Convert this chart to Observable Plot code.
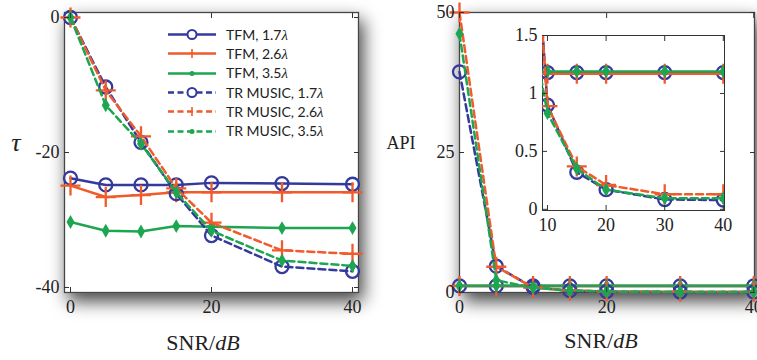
<!DOCTYPE html>
<html><head><meta charset="utf-8">
<script src="https://cdn.jsdelivr.net/npm/d3@7"></script>
<script src="https://cdn.jsdelivr.net/npm/@observablehq/plot@0.6"></script>
<style>
body{margin:0;background:#fff;}
#wrap{position:relative;width:757px;height:360px;overflow:hidden;font-family:"Liberation Serif",serif;background:#fff;}
.lbl{position:absolute;transform:translate(-50%,-50%);white-space:nowrap;line-height:1;color:#222;}
#legend{position:absolute;left:168px;top:25px;font-family:Lato,sans-serif;font-size:14px;color:#222;}
#legend .row{height:19.3px;display:flex;align-items:center;}
#legend svg{display:block;margin-right:10px;}
</style></head><body><div id="wrap"></div>
<script>
// ---------- data ----------
const snr = [0, 5, 10, 15, 20, 30, 40];
const seriesNames = ["TFM, 1.7", "TFM, 2.6", "TFM, 3.5", "TR MUSIC, 1.7", "TR MUSIC, 2.6", "TR MUSIC, 3.5"];
// left panel: tau
const tauTFM17 = [-23.8, -24.8, -24.8, -24.8, -24.5, -24.6, -24.7];
const tauTFM26 = [-24.9, -26.6, -26.3, -25.9, -25.9, -25.9, -25.9];
const tauTFM35 = [-30.3, -31.6, -31.7, -30.9, -31.0, -31.2, -31.2];
const tauTR17 = [0, -10.3, -18.5, -26.1, -32.3, -36.9, -37.6];
const tauTR26 = [0, -10.8, -17.6, -25.3, -30.4, -34.5, -35.0];
const tauTR35 = [0, -13.0, -18.7, -25.9, -31.6, -36.0, -36.8];
// right panel: API
const apiTFM17 = [1.18, 1.18, 1.18, 1.18, 1.18, 1.18, 1.18];
const apiTFM26 = [1.17, 1.17, 1.17, 1.17, 1.17, 1.17, 1.17];
const apiTFM35 = [1.19, 1.19, 1.19, 1.19, 1.19, 1.19, 1.19];
const apiTR17 = [39.4, 4.7, 0.90, 0.32, 0.17, 0.085, 0.08];
const apiTR26 = [50, 4.6, 0.89, 0.37, 0.21, 0.13, 0.13];
const apiTR35 = [46.2, 2.2, 0.83, 0.35, 0.17, 0.095, 0.095];
// tick labels
const leftXTicks = [0, 20, 40];
const leftYTicks = [0, -20, -40];
const rightXTicks = [0, 20, 40];
const rightYTicks = [0, 25, 50];
const insetXTicks = [10, 20, 30, 40];
const insetYTicks = [0, 0.5, 1, 1.5];

// ---------- styles ----------
const colors = ["#343a9c", "#f15a2b", "#1ca650", "#343a9c", "#f15a2b", "#1ca650"];
const symbols = ["circle", "plus", "diamond", "circle", "plus", "diamond"];
const dashed = [false, false, false, true, true, true];

function toRows(values) { return snr.map((x, i) => ({x, y: values[i]})); }
const tauSeries = [tauTFM17, tauTFM26, tauTFM35, tauTR17, tauTR26, tauTR35].map(toRows);
const apiSeries = [apiTFM17, apiTFM26, apiTFM35, apiTR17, apiTR26, apiTR35].map(toRows);

function seriesMarks(series, clip) {
  const marks = [];
  series.forEach((rows, k) => {
    marks.push(Plot.line(rows, {x: "x", y: "y", stroke: colors[k], strokeWidth: 2.5,
      strokeDasharray: dashed[k] ? "7,4" : null, clip}));
    const s = symbols[k];
    const dotOpts = {x: "x", y: "y", symbol: s, clip};
    if (s === "circle") Object.assign(dotOpts, {r: 6.5, stroke: colors[k], strokeWidth: 2.3, fill: "none"});
    else if (s === "plus") Object.assign(dotOpts, {r: 6.5, stroke: colors[k], strokeWidth: 2.3, fill: "none"});
    else Object.assign(dotOpts, {r: 4.2, fill: colors[k], stroke: "none"});
    marks.push(Plot.dot(rows, dotOpts));
  });
  return marks;
}
const fmt = d => String(d);
function axes(xt, yt, fs) {
  return [
    Plot.axisX(xt, {anchor: "bottom", tickSize: -5, tickPadding: 13, tickFormat: fmt, label: null, fontSize: fs, stroke: "#333"}),
    Plot.axisX(xt, {anchor: "top", tickSize: -5, tickFormat: () => "", label: null, stroke: "#333"}),
    Plot.axisY(yt, {anchor: "left", tickSize: -5, tickPadding: 10, tickFormat: fmt, label: null, fontSize: fs, stroke: "#333"}),
    Plot.axisY(yt, {anchor: "right", tickSize: -5, tickFormat: () => "", label: null, stroke: "#333"})
  ];
}
const baseStyle = {fontFamily: "Liberation Serif, serif", fontSize: "18px", background: "transparent", overflow: "visible", color: "#222"};

function addShadow(svg, id) {
  const defs = d3.select(svg).insert("defs", ":first-child");
  const f = defs.append("filter").attr("id", id).attr("x", "-30%").attr("y", "-30%").attr("width", "160%").attr("height", "170%");
  f.append("feDropShadow").attr("dx", 4).attr("dy", 8).attr("stdDeviation", 9)
    .attr("flood-color", "#000").attr("flood-opacity", 0.75);
  d3.select(svg).select("[aria-label=frame]").attr("filter", `url(#${id})`);
}

const wrap = document.getElementById("wrap");

// ---------- left panel ----------
const left = Plot.plot({
  width: 380, height: 360,
  marginLeft: 64, marginRight: 22, marginTop: 12, marginBottom: 68,
  x: {domain: [-0.85, 40.85]},
  y: {domain: [-40.74, 0.74]},
  style: baseStyle,
  marks: [
    Plot.frame({fill: "white", stroke: "#444", strokeWidth: 1.3}),
    ...seriesMarks(tauSeries, false),
    ...axes(leftXTicks, leftYTicks, 18)
  ]
});
addShadow(left, "shL");
left.style.position = "absolute"; left.style.left = "0px"; left.style.top = "0px";
wrap.appendChild(left);

// ---------- right panel ----------
const right = Plot.plot({
  width: 377, height: 360,
  marginLeft: 79, marginRight: 3, marginTop: 12, marginBottom: 68,
  x: {domain: [0, 40.1]},
  y: {domain: [0, 50]},
  style: baseStyle,
  marks: [
    Plot.frame({fill: "white", stroke: "#444", strokeWidth: 1.3}),
    ...seriesMarks(apiSeries, false),
    ...axes(rightXTicks, rightYTicks, 18)
  ]
});
addShadow(right, "shR");
right.style.position = "absolute"; right.style.left = "380px"; right.style.top = "0px";
wrap.appendChild(right);

// ---------- inset ----------
const inset = Plot.plot({
  width: 240, height: 215,
  marginLeft: 42, marginRight: 16, marginTop: 10, marginBottom: 30,
  x: {domain: [9.15, 40.2]},
  y: {domain: [-0.01, 1.5]},
  style: baseStyle,
  marks: [
    Plot.frame({fill: "white", stroke: "#333", strokeWidth: 1}),
    ...seriesMarks(apiSeries, true),
    ...axes(insetXTicks, insetYTicks, 18)
  ]
});
inset.style.position = "absolute"; inset.style.left = "500px"; inset.style.top = "25px";
wrap.appendChild(inset);

// ---------- legend ----------
const legend = d3.select(wrap).append("div").attr("id", "legend");
seriesNames.forEach((name, k) => {
  const row = legend.append("div").attr("class", "row");
  const s = row.append("svg").attr("width", 48).attr("height", 19);
  s.append("line").attr("x1", 0).attr("x2", 48).attr("y1", 9.5).attr("y2", 9.5)
    .attr("stroke", colors[k]).attr("stroke-width", 2.3).attr("stroke-dasharray", dashed[k] ? "6,3.5" : null);
  const g = s.append("g").attr("transform", "translate(24,9.5)");
  if (symbols[k] === "circle") g.append("circle").attr("r", 4.5).attr("fill", "white").attr("stroke", colors[k]).attr("stroke-width", 2);
  else if (symbols[k] === "plus") g.append("path").attr("d", "M0,-4.5V4.5").attr("stroke", colors[k]).attr("stroke-width", 1.6);
  else g.append("circle").attr("r", 2.5).attr("fill", colors[k]);
  const t = row.append("span");
  t.append("span").text(name);
  t.append("span").style("font-family", "Liberation Serif, serif").style("font-style", "italic").style("font-size", "15px").text("λ");
});

// ---------- axis titles ----------
function label(html, x, y, size) {
  const d = document.createElement("div");
  d.className = "lbl";
  d.style.left = x + "px"; d.style.top = y + "px"; d.style.fontSize = size + "px";
  d.innerHTML = html;
  wrap.appendChild(d);
}
label("<i>τ</i>", 16, 143, 26);
label("API", 401, 143, 18);
label("SNR/<i>dB</i>", 203, 343, 22);
label("SNR/<i>dB</i>", 601, 341, 22);
</script></body></html>
